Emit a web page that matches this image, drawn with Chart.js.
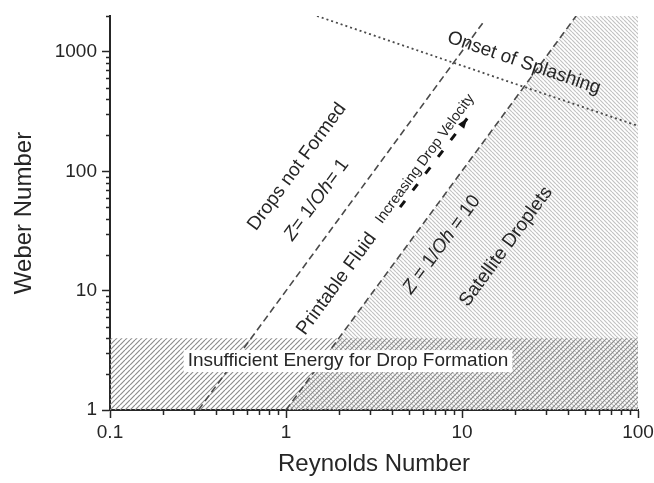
<!DOCTYPE html>
<html>
<head>
<meta charset="utf-8">
<title>Printable fluid map</title>
<script src="https://cdn.jsdelivr.net/npm/chart.js@4"></script>
<style>
  html, body { margin: 0; padding: 0; background: #fff; }
  #wrap { width: 654px; height: 483px; }
</style>
</head>
<body>
<div id="wrap"><canvas id="map" width="654" height="483"></canvas></div>
<script>
// axis ticks
const reTicks = [0.1, 1, 10, 100];
const weTicks = [1, 10, 100, 1000];

// boundary lines (Reynolds, Weber)
const z1Re = [0.318, 13.5];
const z1We = [1, 1850];
const z10Re = [1.0, 44.5];
const z10We = [1, 2000];
const splashRe = [1.5, 100];
const splashWe = [2000, 240];

// hatched regions
const satelliteRe = [1.0, 44.5, 100];
const satelliteWe = [1, 2000, 2000];
const bandRe = [0.1, 100];
const bandWe = [4, 4];

// velocity arrow
const arrowRe = [4.45, 10.7];
const arrowWe = [50, 277];

// labels along the Z lines
const regionLabels = ["Drops not Formed", "Printable Fluid", "Satellite Droplets"];
const regionRe = [1.155, 1.94, 17.8];
const regionWe = [109, 11.4, 23.4];
const zLabels = [
    [["Z", true], ["= 1/", false], ["Oh", true], ["= 1", false]],
    [["Z", true], [" = 1/", false], ["Oh", true], [" = 10", false]]
];
const zRe = [1.494, 7.67];
const zWe = [57.7, 24.3];
const velocityLabel = "Increasing Drop Velocity";
const velocityRe = 6.16;
const velocityWe = 127;
const splashLabel = "Onset of Splashing";
const splashLabelRe = 22.5;
const splashLabelWe = 807;
const bandLabel = "Insufficient Energy for Drop Formation";
const bandLabelRe = 2.25;
const bandLabelWe = 2.57;

const FAMILY = "'Liberation Sans', Arial, sans-serif";
const INK = "#262626";

const toPoints = (xs, ys) => xs.map((x, i) => ({ x: x, y: ys[i] }));

const ctx = document.getElementById("map").getContext("2d");

const hatch = (size, color, width, forward) => {
    const tile = document.createElement("canvas");
    tile.width = size;
    tile.height = size;
    const t = tile.getContext("2d");
    t.strokeStyle = color;
    t.lineWidth = width;
    t.beginPath();
    for (let o = -size; o <= size; o += size) {
        if (forward) {
            t.moveTo(o, size);
            t.lineTo(o + size, 0);
        } else {
            t.moveTo(o, 0);
            t.lineTo(o + size, size);
        }
    }
    t.stroke();
    return ctx.createPattern(tile, "repeat");
};

const lineStyle = (dash, width) => ({
    borderColor: "#4a4a4a",
    borderWidth: width,
    borderDash: dash,
    pointRadius: 0,
    fill: false,
    tension: 0
});

const annotate = {
    id: "annotate",
    afterDatasetsDraw(chart) {
        const { x, y } = chart.scales;
        const area = chart.chartArea;
        const px = v => x.getPixelForValue(v);
        const py = v => y.getPixelForValue(v);
        const font = (size, italic) => (italic ? "italic " : "") + size + "px " + FAMILY;
        const steep = Math.atan2(py(z1We[1]) - py(z1We[0]), px(z1Re[1]) - px(z1Re[0]));
        const shallow = Math.atan2(py(splashWe[1]) - py(splashWe[0]), px(splashRe[1]) - px(splashRe[0]));

        ctx.save();
        ctx.fillStyle = INK;
        ctx.textBaseline = "middle";

        const rotated = (cx, cy, angle, draw) => {
            ctx.save();
            ctx.translate(cx, cy);
            ctx.rotate(angle);
            draw();
            ctx.restore();
        };

        regionLabels.forEach((txt, i) => {
            rotated(px(regionRe[i]), py(regionWe[i]), steep, () => {
                ctx.font = font(19, false);
                ctx.textAlign = "center";
                ctx.fillText(txt, 0, 0);
            });
        });

        zLabels.forEach((parts, i) => {
            rotated(px(zRe[i]), py(zWe[i]), steep, () => {
                const widths = parts.map(([s, it]) => {
                    ctx.font = font(19, it);
                    return ctx.measureText(s).width;
                });
                let cx = -widths.reduce((a, b) => a + b, 0) / 2;
                ctx.textAlign = "left";
                parts.forEach(([s, it], k) => {
                    ctx.font = font(19, it);
                    ctx.fillText(s, cx, 0);
                    cx += widths[k];
                });
            });
        });

        rotated(px(velocityRe), py(velocityWe), steep, () => {
            ctx.font = font(14.5, false);
            ctx.textAlign = "center";
            ctx.fillText(velocityLabel, 0, 0);
        });

        rotated(px(splashLabelRe), py(splashLabelWe), shallow, () => {
            ctx.font = font(19, false);
            ctx.textAlign = "center";
            ctx.fillText(splashLabel, 0, 0);
        });

        // arrow head at the end of the velocity arrow
        const ax = px(arrowRe[1]), ay = py(arrowWe[1]);
        const dir = Math.atan2(ay - py(arrowWe[0]), ax - px(arrowRe[0]));
        rotated(ax, ay, dir, () => {
            ctx.fillStyle = "#111";
            ctx.beginPath();
            ctx.moveTo(0, 0);
            ctx.lineTo(-10, -3.8);
            ctx.lineTo(-10, 3.8);
            ctx.closePath();
            ctx.fill();
        });

        // band label on a white box
        ctx.font = font(19, false);
        const bw = ctx.measureText(bandLabel).width;
        const bx = px(bandLabelRe), by = py(bandLabelWe);
        ctx.fillStyle = "#fff";
        ctx.fillRect(bx - bw / 2 - 4, by - 11, bw + 8, 22);
        ctx.fillStyle = INK;
        ctx.textAlign = "center";
        ctx.fillText(bandLabel, bx, by);

        // minor ticks
        ctx.strokeStyle = INK;
        ctx.lineWidth = 1.5;
        ctx.beginPath();
        reTicks.slice(0, -1).forEach(d => {
            for (let m = 2; m <= 9; m++) {
                const tx = Math.round(px(d * m)) + 0.5;
                ctx.moveTo(tx, area.bottom);
                ctx.lineTo(tx, area.bottom + 5);
            }
        });
        weTicks.forEach(d => {
            for (let m = 2; m <= 9; m++) {
                if (d * m > y.max) break;
                const ty = Math.round(py(d * m)) + 0.5;
                ctx.moveTo(area.left, ty);
                ctx.lineTo(area.left - 4, ty);
            }
        });
        ctx.stroke();
        ctx.restore();
    }
};

const chart = new Chart(ctx, {
    type: "line",
    data: {
        datasets: [
            Object.assign({ data: toPoints(z1Re, z1We), order: 0 }, lineStyle([7, 4], 1.6)),
            Object.assign({ data: toPoints(z10Re, z10We), order: 1 }, lineStyle([7, 4], 1.6)),
            Object.assign({ data: toPoints(splashRe, splashWe), order: 2 }, lineStyle([2, 3], 1.8)),
            Object.assign({ data: toPoints(arrowRe, arrowWe), order: 3 }, lineStyle([8, 13], 3), { borderColor: "#111" }),
            {
                data: toPoints(bandRe, bandWe),
                order: 5,
                borderWidth: 0,
                borderColor: "rgba(0,0,0,0)",
                pointRadius: 0,
                fill: "start",
                backgroundColor: hatch(5, "#8c8c8c", 1.2, true)
            },
            {
                data: toPoints(satelliteRe, satelliteWe),
                order: 6,
                borderWidth: 0,
                borderColor: "rgba(0,0,0,0)",
                pointRadius: 0,
                fill: "start",
                backgroundColor: hatch(4, "#c2c2c2", 1.2, false)
            }
        ]
    },
    options: {
        responsive: false,
        animation: false,
        events: [],
        layout: { padding: { top: 16, right: 16, left: 0, bottom: 0 } },
        plugins: { legend: { display: false }, tooltip: { enabled: false } },
        scales: {
            x: {
                type: "logarithmic",
                min: 0.1,
                max: 100,
                afterBuildTicks: s => { s.ticks = reTicks.map(v => ({ value: v })); },
                afterFit: s => { s.height = 73; s.paddingLeft = 0; s.paddingRight = 0; },
                grid: { drawOnChartArea: false, tickLength: 8, tickWidth: 1.5, tickColor: INK },
                border: { color: INK, width: 2 },
                ticks: {
                    autoSkip: false,
                    maxRotation: 0,
                    padding: 3,
                    color: INK,
                    font: { family: FAMILY, size: 19 },
                    callback: v => String(v)
                },
                title: {
                    display: true,
                    text: "Reynolds Number",
                    color: INK,
                    font: { family: FAMILY, size: 24 },
                    padding: { top: 0, bottom: 4 }
                }
            },
            y: {
                type: "logarithmic",
                min: 1,
                max: 2000,
                afterBuildTicks: s => { s.ticks = weTicks.map(v => ({ value: v })); },
                afterFit: s => { s.width = 110; s.paddingTop = 0; s.paddingBottom = 0; },
                grid: { drawOnChartArea: false, tickLength: 8, tickWidth: 1.5, tickColor: INK },
                border: { color: INK, width: 2 },
                ticks: {
                    autoSkip: false,
                    padding: 5,
                    color: INK,
                    font: { family: FAMILY, size: 19 },
                    callback: v => String(v)
                },
                title: {
                    display: true,
                    text: "Weber Number",
                    color: INK,
                    font: { family: FAMILY, size: 24 },
                    padding: { top: 10, bottom: 0 }
                }
            }
        }
    },
    plugins: [annotate]
});
</script>
</body>
</html>
